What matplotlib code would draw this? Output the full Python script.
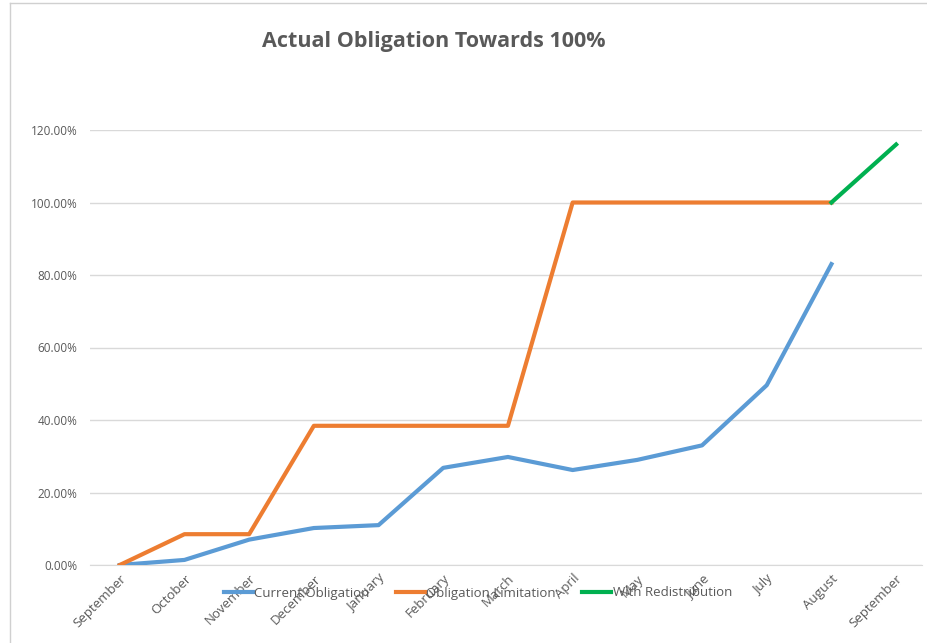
import matplotlib
matplotlib.use("Agg")
import matplotlib.pyplot as plt
from matplotlib.ticker import PercentFormatter
from matplotlib.lines import Line2D

plt.rcParams['font.family'] = ['Open Sans', 'DejaVu Sans']

# Data
months = ['September', 'October', 'November', 'December', 'January', 'February',
          'March', 'April', 'May', 'June', 'July', 'August', 'September']
current_obligation = [0.0, 1.4, 7.0, 10.2, 11.0, 26.8, 29.8, 26.2, 29.0, 33.0, 49.6, 83.0]
obligation_limitation = [0.0, 8.5, 8.5, 38.4, 38.4, 38.4, 38.4, 100.0, 100.0, 100.0, 100.0, 100.0]
redistribution_x = [11, 12]
with_redistribution = [100.0, 116.0]

BLUE = '#5B9BD5'
ORANGE = '#ED7D31'
GREEN = '#00B050'
TXT = '#595959'

fig = plt.figure(figsize=(9.28, 6.43), dpi=100)
ax = fig.add_axes([90 / 928, 1 - 565 / 643, 832 / 928, 435 / 643])

x = list(range(len(current_obligation)))
ax.plot(x, current_obligation, color=BLUE, lw=3, solid_joinstyle='round', zorder=3)
ax.plot(x, obligation_limitation, color=ORANGE, lw=3, solid_joinstyle='round', zorder=3)
ax.plot(redistribution_x, with_redistribution, color=GREEN, lw=3, zorder=3)

ax.set_xlim(-0.46, 12.4)
ax.set_ylim(0, 120)
ax.set_yticks(range(0, 121, 20))
ax.yaxis.set_major_formatter(PercentFormatter(decimals=2))
ax.grid(axis='y', color='#D9D9D9', lw=1)
ax.set_axisbelow(True)
for s in ax.spines.values():
    s.set_visible(False)
ax.spines['bottom'].set_visible(True)
ax.spines['bottom'].set_color('#D9D9D9')
ax.tick_params(axis='both', length=0, colors=TXT)
ax.tick_params(axis='y', pad=9, labelsize=8.5)

ax.set_xticks(range(len(months)))
ax.set_xticklabels(months, rotation=45, ha='right', rotation_mode='anchor')
ax.tick_params(axis='x', pad=5, labelsize=9.5)

fig.text(434 / 928, 1 - 42 / 643, 'Actual Obligation Towards 100%', ha='center', va='center',
         fontsize=15.5, fontweight='bold', color=TXT)

handles = [Line2D([], [], color=BLUE, lw=3),
           Line2D([], [], color=ORANGE, lw=3),
           Line2D([], [], color=GREEN, lw=3)]
fig.legend(handles, ['Current Obligation', 'Obligation Limitation', 'With Redistribution'],
           loc='center', bbox_to_anchor=(478 / 928, 1 - 593 / 643), ncol=3, frameon=False,
           fontsize=9.5, labelcolor=TXT, handlelength=2.2, handletextpad=0.1, columnspacing=2.0)

# light frame of the chart area
fig.add_artist(Line2D([10 / 928, 10 / 928], [0, 1 - 3 / 643], color='#D0D0D0', lw=1))
fig.add_artist(Line2D([10 / 928, 1], [1 - 3 / 643, 1 - 3 / 643], color='#D0D0D0', lw=1))

fig.savefig('out.png', dpi=100, facecolor='white')
